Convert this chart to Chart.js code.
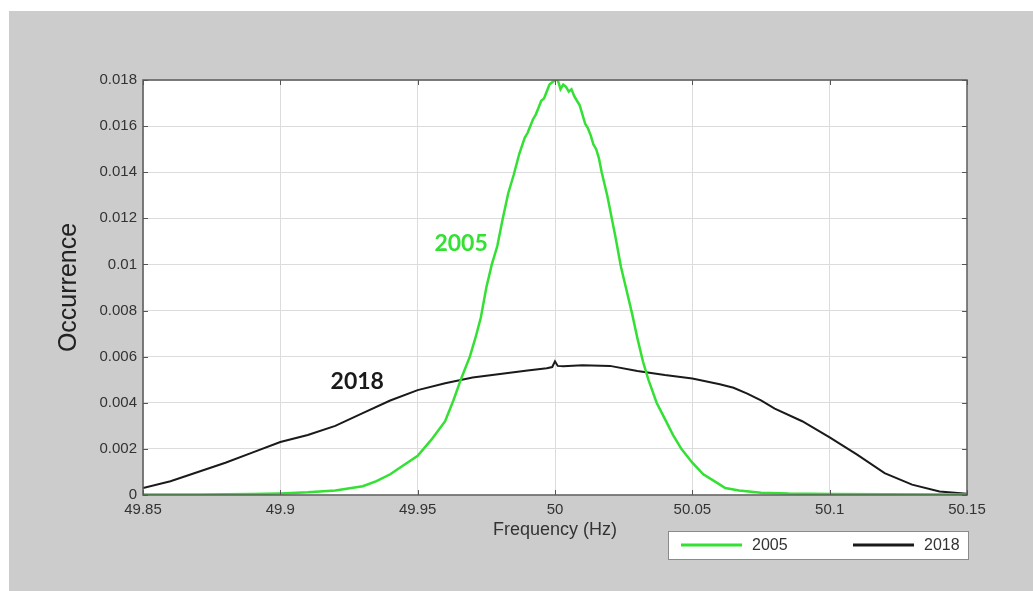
<!DOCTYPE html>
<html>
<head>
<meta charset="utf-8">
<script src="https://cdn.jsdelivr.net/npm/chart.js@4.4.1/dist/chart.umd.min.js"></script>
<style>
  body { margin: 0; background: #ffffff; }
  canvas { display: block; }
</style>
</head>
<body>
<canvas id="myChart" width="1033" height="591"></canvas>
<script>
// Frequency histogram data
const freq2005 = [49.85, 49.87, 49.89, 49.90, 49.91, 49.92, 49.93, 49.935, 49.94, 49.945,
    49.95, 49.955, 49.96, 49.963, 49.966, 49.969, 49.971, 49.973, 49.975, 49.977,
    49.979, 49.981, 49.983, 49.985, 49.987, 49.989, 49.990, 49.992, 49.993, 49.994,
    49.995, 49.996, 49.997, 49.998, 49.999, 50.000, 50.001, 50.002, 50.003, 50.004,
    50.005, 50.006, 50.007, 50.008, 50.009, 50.010, 50.011, 50.012, 50.013, 50.014,
    50.015, 50.016, 50.017, 50.018, 50.019, 50.020, 50.021, 50.022, 50.024, 50.026,
    50.028, 50.030, 50.032, 50.034, 50.037, 50.040, 50.043, 50.046, 50.050, 50.054,
    50.058, 50.062, 50.067, 50.075, 50.085, 50.10, 50.12, 50.15];
const occ2005 = [0.00002, 0.00002, 0.00004, 0.00007, 0.00012, 0.0002, 0.00038, 0.0006, 0.0009, 0.0013,
    0.0017, 0.0024, 0.0032, 0.0041, 0.0051, 0.0060, 0.0068, 0.0077, 0.0090, 0.0100,
    0.0108, 0.0120, 0.0131, 0.0139, 0.0148, 0.0155, 0.0157, 0.0163, 0.0165, 0.0168,
    0.0171, 0.0172, 0.0175, 0.0178, 0.0179, 0.0180, 0.0180, 0.0176, 0.0178, 0.0177,
    0.0175, 0.0176, 0.0173, 0.0171, 0.0169, 0.0165, 0.0161, 0.0159, 0.0156, 0.0152,
    0.0150, 0.0146, 0.0140, 0.0135, 0.0130, 0.0124, 0.0118, 0.0112, 0.0099, 0.0089,
    0.0079, 0.0068, 0.0058, 0.0050, 0.0040, 0.0033, 0.0026, 0.0020, 0.0014, 0.0009,
    0.0006, 0.0003, 0.0002, 0.0001, 0.00006, 0.00004, 0.00003, 0.00002];

const freq2018 = [49.85, 49.86, 49.87, 49.88, 49.89, 49.90, 49.91, 49.92, 49.93, 49.94,
    49.95, 49.96, 49.97, 49.98, 49.99, 49.997, 49.999, 50.000, 50.001, 50.003,
    50.01, 50.02, 50.03, 50.04, 50.05, 50.06, 50.065, 50.07, 50.075, 50.08,
    50.09, 50.10, 50.11, 50.12, 50.13, 50.14, 50.15];
const occ2018 = [0.0003, 0.0006, 0.0010, 0.0014, 0.00185, 0.0023, 0.0026, 0.0030, 0.00355, 0.0041,
    0.00455, 0.00485, 0.0051, 0.00525, 0.0054, 0.0055, 0.00555, 0.0058, 0.0056, 0.00558,
    0.00563, 0.0056, 0.00538, 0.0052, 0.00505, 0.0048, 0.00465, 0.0044, 0.0041, 0.00375,
    0.0032, 0.0025, 0.00175, 0.00095, 0.00045, 0.00015, 0.00005];

const seriesNames = ["2005", "2018"];
const seriesColors = ["#33e033", "#1a1a1a"];

// in-plot labels: text, frequency, occurrence
const noteText = ["2005", "2018"];
const noteFreq = [49.9658, 49.928];
const noteOcc = [0.0109, 0.00494];

const xTicks = [49.85, 49.9, 49.95, 50, 50.05, 50.1, 50.15];
const yMax = 0.018;
const yStep = 0.002;

function toPoints(xs, ys) {
    let pts = [];
    for (let i = 0; i < xs.length; i++) {
        pts.push({x: xs[i], y: ys[i]});
    }
    return pts;
}

// background, frame, inside ticks, labels and legend like the matlab figure
const figurePlugin = {
    id: 'figure',
    beforeDraw(chart) {
        const ctx = chart.ctx;
        const a = chart.chartArea;
        ctx.save();
        ctx.fillStyle = '#cccccc';
        ctx.fillRect(9, 11, chart.width - 9, chart.height - 11);
        ctx.fillStyle = '#ffffff';
        ctx.fillRect(a.left, a.top, a.right - a.left, a.bottom - a.top);
        ctx.restore();
    },
    afterDatasetsDraw(chart) {
        const ctx = chart.ctx;
        const a = chart.chartArea;
        const xs = chart.scales.x;
        const ys = chart.scales.y;
        ctx.save();
        ctx.strokeStyle = '#555555';
        ctx.lineWidth = 1;
        ctx.beginPath();
        xs.ticks.forEach(t => {
            const px = Math.round(xs.getPixelForValue(t.value)) + 0.5;
            ctx.moveTo(px, a.bottom); ctx.lineTo(px, a.bottom - 5);
            ctx.moveTo(px, a.top); ctx.lineTo(px, a.top + 5);
        });
        ys.ticks.forEach(t => {
            const py = Math.round(ys.getPixelForValue(t.value)) + 0.5;
            ctx.moveTo(a.left, py); ctx.lineTo(a.left + 5, py);
            ctx.moveTo(a.right, py); ctx.lineTo(a.right - 5, py);
        });
        ctx.stroke();
        ctx.strokeStyle = '#5a5a5a';
        ctx.lineWidth = 1.5;
        ctx.strokeRect(a.left, a.top, a.right - a.left, a.bottom - a.top);

        // labels inside the plot
        ctx.font = 'bold 23px Lato';
        ctx.textAlign = 'center';
        ctx.textBaseline = 'middle';
        for (let i = 0; i < noteText.length; i++) {
            ctx.fillStyle = seriesColors[i];
            ctx.fillText(noteText[i], xs.getPixelForValue(noteFreq[i]), ys.getPixelForValue(noteOcc[i]));
        }

        // legend box below the plot, right aligned
        const bx = a.right - 299, by = a.bottom + 36, bw = 300, bh = 28;
        ctx.fillStyle = '#ffffff';
        ctx.fillRect(bx, by, bw, bh);
        ctx.strokeStyle = '#8a8a8a';
        ctx.lineWidth = 1;
        ctx.strokeRect(bx + 0.5, by + 0.5, bw, bh);
        ctx.font = '16px "Liberation Sans", Arial';
        ctx.textAlign = 'left';
        const cy = by + bh / 2;
        const itemX = [bx + 13, bx + 185];
        for (let i = 0; i < seriesNames.length; i++) {
            ctx.strokeStyle = seriesColors[i];
            ctx.lineWidth = 3;
            ctx.beginPath();
            ctx.moveTo(itemX[i], cy);
            ctx.lineTo(itemX[i] + 61, cy);
            ctx.stroke();
            ctx.fillStyle = '#333333';
            ctx.fillText(seriesNames[i], itemX[i] + 71, cy + 1);
        }
        ctx.restore();
    }
};

const ctx = document.getElementById("myChart");

const config = {
    type: 'line',
    data: {
        datasets: [{
            label: seriesNames[0],
            data: toPoints(freq2005, occ2005),
            borderColor: seriesColors[0],
            borderWidth: 2.5,
            pointRadius: 0,
            tension: 0
        }, {
            label: seriesNames[1],
            data: toPoints(freq2018, occ2018),
            borderColor: seriesColors[1],
            borderWidth: 2,
            pointRadius: 0,
            tension: 0
        }]
    },
    options: {
        responsive: false,
        animation: false,
        layout: {
            padding: {left: 0, top: 80, right: 66, bottom: 0}
        },
        plugins: {
            legend: {display: false},
            tooltip: {enabled: false}
        },
        scales: {
            x: {
                type: 'linear',
                min: 49.85,
                max: 50.15,
                afterBuildTicks: function(scale) {
                    scale.ticks = xTicks.map(v => ({value: v}));
                },
                afterFit: function(scale) { scale.height = 96; },
                border: {display: false},
                grid: {color: '#dcdcdc', lineWidth: 1, drawTicks: false},
                ticks: {
                    padding: 6,
                    color: '#333333',
                    font: {family: '"Liberation Sans", Arial', size: 15},
                    maxRotation: 0,
                    callback: v => String(parseFloat(v.toFixed(2)))
                },
                title: {
                    display: true,
                    text: 'Frequency (Hz)',
                    color: '#333333',
                    font: {family: '"Liberation Sans", Arial', size: 18},
                    padding: {top: 0, bottom: 50}
                }
            },
            y: {
                min: 0,
                max: yMax,
                afterFit: function(scale) { scale.width = 143; },
                border: {display: false},
                grid: {color: '#dcdcdc', lineWidth: 1, drawTicks: false},
                ticks: {
                    stepSize: yStep,
                    padding: 6,
                    color: '#333333',
                    font: {family: '"Liberation Sans", Arial', size: 15},
                    callback: v => String(parseFloat(v.toFixed(3)))
                },
                title: {
                    display: true,
                    text: 'Occurrence',
                    color: '#222222',
                    font: {family: '"Liberation Sans", Arial', size: 25},
                    padding: {top: 54, bottom: 0}
                }
            }
        }
    },
    plugins: [figurePlugin]
};

const chart = new Chart(ctx, config);
</script>
</body>
</html>
